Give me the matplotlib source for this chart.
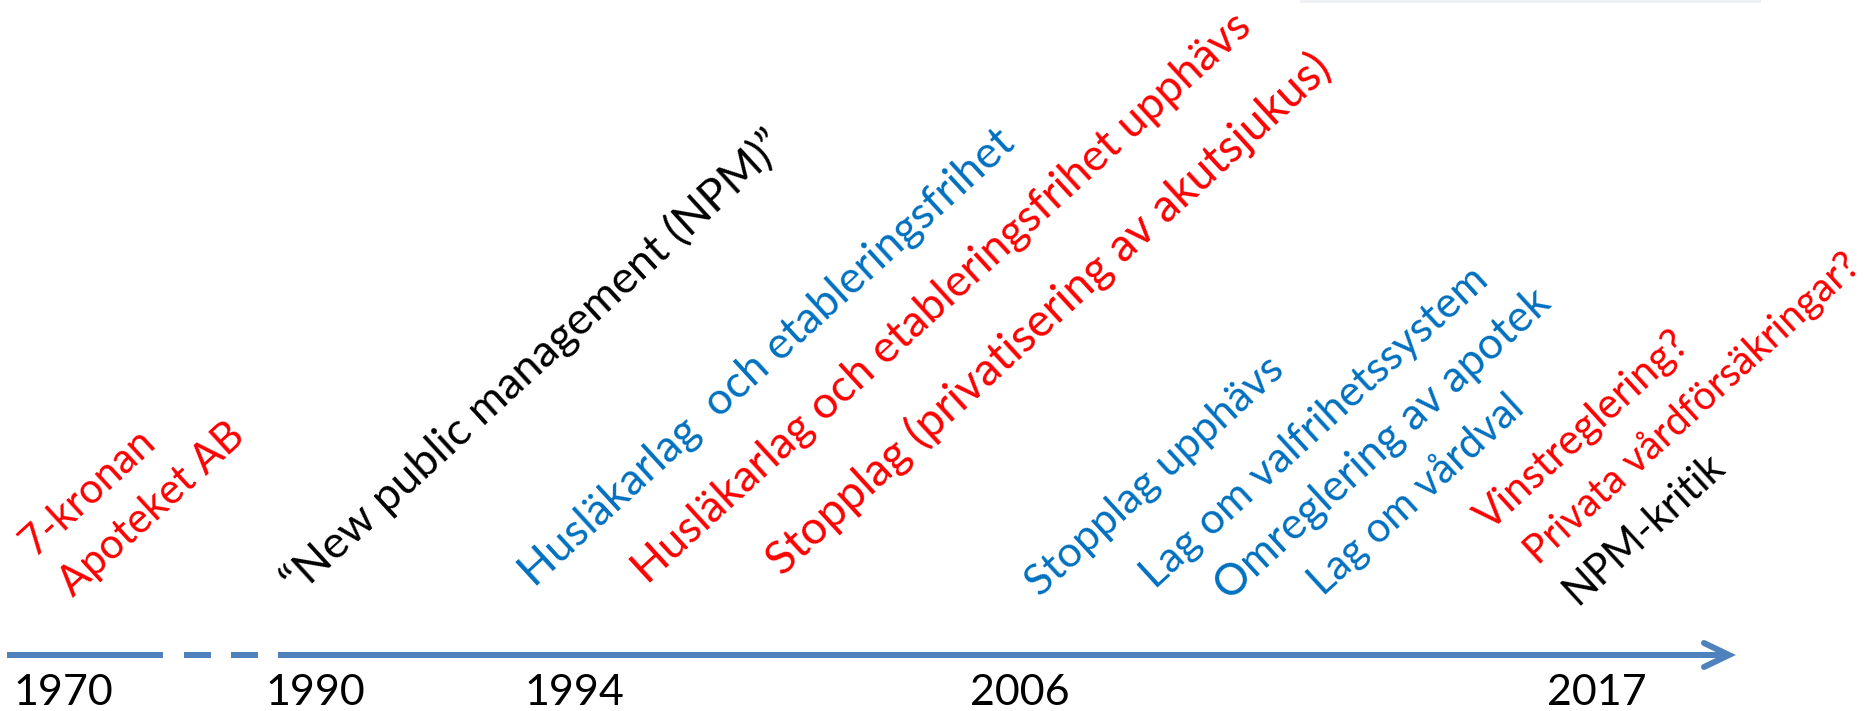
import matplotlib
matplotlib.use('Agg')
import matplotlib.pyplot as plt
from matplotlib.patches import Rectangle

plt.rcParams['font.family'] = ['Lato', 'DejaVu Sans']

# timeline years (the axis is not linear: 1970-1990 is cut)
years = ['1970', '1990', '1994', '2006', '2017']

# events along the timeline
labels = ['7-kronan',
          'Apoteket AB',
          '\u201cNew public management (NPM)\u201d',
          'Husl\u00e4karlag  och etableringsfrihet',
          'Husl\u00e4karlag och etableringsfrihet upph\u00e4vs',
          'Stopplag (privatisering av akutsjukus)',
          'Stopplag upph\u00e4vs',
          'Lag om valfrihetssystem',
          'Omreglering av apotek',
          'Lag om v\u00e5rdval',
          'Vinstreglering?',
          'Privata v\u00e5rdf\u00f6rs\u00e4kringar?',
          'NPM-kritik']
kinds = ['red', 'red', 'black', 'blue', 'red', 'red',
         'blue', 'blue', 'blue', 'blue', 'red', 'red', 'black']

colours = {'red': '#FF0000', 'blue': '#0070C0', 'black': '#000000'}
line_col = '#4F81BD'

# layout in pixels of the 1866x711 picture
year_x = [13, 265, 524, 970, 1547]
label_xy = [(35, 557), (73, 598), (298, 597), (535, 588), (648, 585),
            (783, 577), (1040, 598), (1155, 590), (1230, 602), (1323, 597),
            (1490, 532), (1538, 566), (1577, 606)]
# font sizes so that the text lengths match the Calibri original
label_fs = [30, 30, 32.5, 32, 32.2, 33.2, 31, 31, 31.5, 30, 30, 28.8, 30]
angle = 42.5

fig = plt.figure(figsize=(18.66, 7.11), dpi=100)
ax = fig.add_axes([0, 0, 1, 1])
ax.set_xlim(0, 1866)
ax.set_ylim(711, 0)
ax.axis('off')

# faint bar at the top edge
ax.add_patch(Rectangle((1300, 0), 461, 3, color='#EEF0F3', lw=0))

lw = 6 * 72 / 100.
y0 = 655
ax.plot([7, 163], [y0, y0], color=line_col, lw=lw, solid_capstyle='butt')
for a, b in [(184, 211), (231, 258)]:
    ax.plot([a, b], [y0, y0], color=line_col, lw=lw, solid_capstyle='butt')
ax.plot([278, 1726], [y0, y0], color=line_col, lw=lw, solid_capstyle='butt')
ax.plot([1704, 1729, 1704], [643, y0, 667], color=line_col, lw=lw,
        solid_capstyle='round', solid_joinstyle='miter')

for s, x in zip(years, year_x):
    ax.text(x, 705, s, ha='left', va='baseline', fontsize=31, color='black')

for s, k, (x, y), f in zip(labels, kinds, label_xy, label_fs):
    ax.text(x, y, s, rotation=angle, rotation_mode='anchor',
            ha='left', va='baseline', fontsize=f, color=colours[k])

plt.savefig('out.png', dpi=100)
plt.close()
